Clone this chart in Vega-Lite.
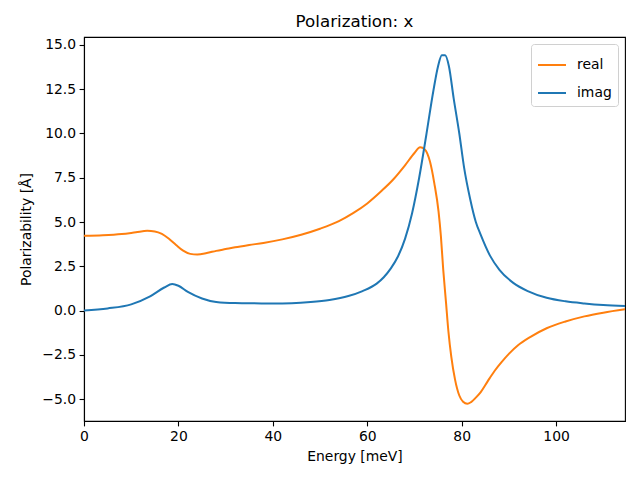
{
  "$schema": "https://vega.github.io/schema/vega-lite/v6.json",
  "width": 541,
  "height": 384,
  "autosize": {"type": "none"},
  "padding": {"left": 84, "top": 37, "right": 15, "bottom": 59},
  "background": "white",
  "title": {"text": "Polarization: x", "fontSize": 16.7, "font": "DejaVu Sans", "fontWeight": "normal", "color": "black", "offset": 6},
  "config": {
    "font": "DejaVu Sans",
    "view": {"stroke": "black", "strokeWidth": 1.1},
    "axis": {"grid": false, "labelFlush": false, "domainColor": "black", "domainWidth": 1.1, "tickColor": "black", "tickWidth": 1.1, "tickSize": 4.9, "labelPadding": 3.5, "labelFontSize": 13.9, "labelColor": "black", "titleFontSize": 13.9, "titleFontWeight": "normal", "titleColor": "black", "labelFont": "DejaVu Sans", "titleFont": "DejaVu Sans"}
  },
  "data": {"values": [
    {"e": 0, "v": 4.22, "s": "real"}, {"e": 4, "v": 4.25, "s": "real"}, {"e": 8, "v": 4.32, "s": "real"}, {"e": 11, "v": 4.42, "s": "real"}, {"e": 13.4, "v": 4.5, "s": "real"}, {"e": 15, "v": 4.47, "s": "real"}, {"e": 16.5, "v": 4.33, "s": "real"}, {"e": 18, "v": 4.05, "s": "real"}, {"e": 19.5, "v": 3.7, "s": "real"}, {"e": 21, "v": 3.38, "s": "real"}, {"e": 22.5, "v": 3.2, "s": "real"}, {"e": 24, "v": 3.17, "s": "real"}, {"e": 26, "v": 3.25, "s": "real"}, {"e": 28, "v": 3.37, "s": "real"}, {"e": 30, "v": 3.47, "s": "real"}, {"e": 32, "v": 3.57, "s": "real"}, {"e": 35, "v": 3.7, "s": "real"}, {"e": 38, "v": 3.82, "s": "real"}, {"e": 42, "v": 4.02, "s": "real"}, {"e": 46, "v": 4.28, "s": "real"}, {"e": 50, "v": 4.62, "s": "real"}, {"e": 54, "v": 5.05, "s": "real"}, {"e": 57, "v": 5.5, "s": "real"}, {"e": 60, "v": 6.05, "s": "real"}, {"e": 63, "v": 6.75, "s": "real"}, {"e": 65.5, "v": 7.4, "s": "real"}, {"e": 68, "v": 8.2, "s": "real"}, {"e": 70, "v": 8.9, "s": "real"}, {"e": 71.2, "v": 9.22, "s": "real"}, {"e": 72.2, "v": 9.1, "s": "real"}, {"e": 73.3, "v": 8.4, "s": "real"}, {"e": 74.2, "v": 7.2, "s": "real"}, {"e": 75.1, "v": 5.6, "s": "real"}, {"e": 75.6, "v": 4.2, "s": "real"}, {"e": 76.1, "v": 2.3, "s": "real"}, {"e": 76.7, "v": 0.4, "s": "real"}, {"e": 77.2, "v": -1.2, "s": "real"}, {"e": 77.8, "v": -2.6, "s": "real"}, {"e": 78.6, "v": -3.9, "s": "real"}, {"e": 79.5, "v": -4.8, "s": "real"}, {"e": 80.3, "v": -5.15, "s": "real"}, {"e": 81.2, "v": -5.27, "s": "real"}, {"e": 82, "v": -5.17, "s": "real"}, {"e": 83, "v": -4.92, "s": "real"}, {"e": 84, "v": -4.62, "s": "real"}, {"e": 85.5, "v": -4.0, "s": "real"}, {"e": 87, "v": -3.4, "s": "real"}, {"e": 88.5, "v": -2.9, "s": "real"}, {"e": 90, "v": -2.45, "s": "real"}, {"e": 92, "v": -1.95, "s": "real"}, {"e": 94.5, "v": -1.5, "s": "real"}, {"e": 98, "v": -1.0, "s": "real"}, {"e": 102, "v": -0.62, "s": "real"}, {"e": 106, "v": -0.33, "s": "real"}, {"e": 110, "v": -0.12, "s": "real"}, {"e": 114.6, "v": 0.07, "s": "real"},
    {"e": 0, "v": 0.0, "s": "imag"}, {"e": 5, "v": 0.12, "s": "imag"}, {"e": 10, "v": 0.35, "s": "imag"}, {"e": 14, "v": 0.8, "s": "imag"}, {"e": 17, "v": 1.3, "s": "imag"}, {"e": 18.7, "v": 1.5, "s": "imag"}, {"e": 20, "v": 1.4, "s": "imag"}, {"e": 22, "v": 1.05, "s": "imag"}, {"e": 25, "v": 0.68, "s": "imag"}, {"e": 28, "v": 0.48, "s": "imag"}, {"e": 32, "v": 0.42, "s": "imag"}, {"e": 36, "v": 0.41, "s": "imag"}, {"e": 40, "v": 0.39, "s": "imag"}, {"e": 44, "v": 0.41, "s": "imag"}, {"e": 48, "v": 0.48, "s": "imag"}, {"e": 52, "v": 0.6, "s": "imag"}, {"e": 56, "v": 0.82, "s": "imag"}, {"e": 59, "v": 1.1, "s": "imag"}, {"e": 62, "v": 1.52, "s": "imag"}, {"e": 63.5, "v": 1.88, "s": "imag"}, {"e": 65, "v": 2.38, "s": "imag"}, {"e": 66.5, "v": 3.05, "s": "imag"}, {"e": 68, "v": 4.05, "s": "imag"}, {"e": 69.5, "v": 5.5, "s": "imag"}, {"e": 71, "v": 7.5, "s": "imag"}, {"e": 72.5, "v": 9.9, "s": "imag"}, {"e": 74, "v": 12.4, "s": "imag"}, {"e": 75, "v": 13.8, "s": "imag"}, {"e": 75.8, "v": 14.42, "s": "imag"}, {"e": 76.5, "v": 14.42, "s": "imag"}, {"e": 77.3, "v": 13.8, "s": "imag"}, {"e": 78.3, "v": 12.0, "s": "imag"}, {"e": 79.5, "v": 10.0, "s": "imag"}, {"e": 80.5, "v": 8.1, "s": "imag"}, {"e": 81.8, "v": 6.3, "s": "imag"}, {"e": 83, "v": 5.0, "s": "imag"}, {"e": 84, "v": 4.3, "s": "imag"}, {"e": 86, "v": 3.1, "s": "imag"}, {"e": 88, "v": 2.3, "s": "imag"}, {"e": 91, "v": 1.55, "s": "imag"}, {"e": 94, "v": 1.1, "s": "imag"}, {"e": 98, "v": 0.72, "s": "imag"}, {"e": 102, "v": 0.52, "s": "imag"}, {"e": 106, "v": 0.4, "s": "imag"}, {"e": 110, "v": 0.31, "s": "imag"}, {"e": 114.6, "v": 0.25, "s": "imag"}
  ]},
  "mark": {"type": "line", "strokeWidth": 2, "interpolate": "monotone", "clip": true},
  "encoding": {
    "x": {"field": "e", "type": "quantitative", "title": "Energy [meV]", "scale": {"domain": [0, 114.6], "nice": false, "zero": false}, "axis": {"values": [0, 20, 40, 60, 80, 100], "format": "d", "titlePadding": 6}},
    "y": {"field": "v", "type": "quantitative", "title": "Polarizability [Å]", "scale": {"domain": [-6.24, 15.45], "nice": false, "zero": false}, "axis": {"values": [-5, -2.5, 0, 2.5, 5, 7.5, 10, 12.5, 15], "format": ".1f", "titlePadding": 8}},
    "color": {"field": "s", "type": "nominal", "sort": ["real", "imag"], "scale": {"domain": ["real", "imag"], "range": ["#ff7f0e", "#1f77b4"]},
      "legend": {"title": null, "orient": "top-right", "offset": 7, "labelFontSize": 13.9, "labelColor": "black", "symbolType": "stroke", "symbolSize": 784, "symbolStrokeWidth": 2, "strokeColor": "#d0d0d0", "fillColor": "white", "cornerRadius": 3, "padding": 6, "rowPadding": 6, "labelOffset": 10}}
  }
}
